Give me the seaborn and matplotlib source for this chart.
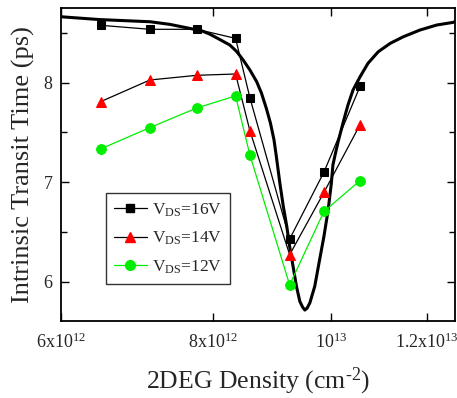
import numpy as np
import pandas as pd
import matplotlib
matplotlib.use("Agg")
import matplotlib.pyplot as plt
import seaborn as sns

# ---- data (x in units of 1e12 cm^-2, y in ps) ----
x_meas = [6.47, 7.10, 7.76, 8.35, 8.58, 9.25, 9.87, 10.57]
y_16v = [8.576, 8.536, 8.536, 8.445, 7.847, 6.429, 7.101, 7.964]
y_14v = [7.81, 8.027, 8.074, 8.087, 7.516, 6.272, 6.897, 7.579]
y_12v = [7.335, 7.549, 7.746, 7.867, 7.272, 5.968, 6.706, 7.017]

curve_x = [6.00, 6.45, 7.10, 7.37, 7.70, 7.80, 7.95, 8.10, 8.26, 8.37,
           8.47, 8.58, 8.69, 8.77, 8.85, 8.92, 8.98, 9.02, 9.08, 9.14,
           9.20, 9.25, 9.31, 9.37, 9.43, 9.48, 9.52, 9.56, 9.61, 9.70,
           9.79, 9.87, 9.95, 10.01, 10.04, 10.09, 10.14, 10.24, 10.33,
           10.43, 10.57, 10.73, 10.94, 11.19, 11.47, 11.84, 12.22, 12.61,
           12.65]
curve_y = [8.662, 8.634, 8.612, 8.586, 8.539, 8.529, 8.488, 8.435, 8.378,
           8.311, 8.228, 8.127, 8.010, 7.894, 7.743, 7.593, 7.425, 7.258,
           6.991, 6.756, 6.556, 6.355, 6.155, 5.954, 5.803, 5.745, 5.716,
           5.735, 5.787, 5.954, 6.222, 6.455, 6.723, 6.991, 7.175, 7.295,
           7.408, 7.609, 7.776, 7.927, 8.060, 8.195, 8.311, 8.395, 8.461,
           8.529, 8.579, 8.606, 8.614]

labels = ["V$_{\\rm DS}$=16V", "V$_{\\rm DS}$=14V", "V$_{\\rm DS}$=12V"]
xticks = [6, 8, 10, 12]
xticklabels = ["6x10$^{12}$", "8x10$^{12}$", "10$^{13}$", "1.2x10$^{13}$"]
yticks = [6, 7, 8]

sns.set_style("ticks")
plt.rcParams["font.family"] = ["Liberation Serif", "DejaVu Serif"]
plt.rcParams["mathtext.fontset"] = "custom"
plt.rcParams["mathtext.rm"] = "Liberation Serif"
plt.rcParams["mathtext.it"] = "Liberation Serif:italic"
plt.rcParams["mathtext.bf"] = "Liberation Serif:bold"

fig = plt.figure(figsize=(4.57, 3.98), dpi=100)
ax = fig.add_axes([61 / 457, 1 - 321 / 398, 394 / 457, 313 / 398])

df_curve = pd.DataFrame({"x": curve_x, "y": curve_y})
sns.lineplot(data=df_curve, x="x", y="y", ax=ax, color="black", lw=2.2,
             estimator=None, sort=False, legend=False)

series = [
    (y_16v, labels[0], "black", "s", "black", 6.0),
    (y_14v, labels[1], "black", "^", "red", 7.0),
    (y_12v, labels[2], "#00ee00", "o", "#00ee00", 7.0),
]
handles = []
for ys, lab, lc, mk, mc, ms in series:
    sns.lineplot(x=x_meas, y=ys, ax=ax, color=lc, lw=0.9, marker=mk,
                 markersize=ms, markerfacecolor=mc, markeredgecolor=mc,
                 estimator=None, sort=False, legend=False)
    h, = ax.plot([], [], color=lc, lw=0.9, marker=mk, markersize=ms,
                 markerfacecolor=mc, markeredgecolor=mc, label=lab)
    handles.append(h)

ax.set_xscale("log")
ax.set_xlim(6.0, 12.65)
ax.set_ylim(5.606, 8.75)
ax.set_xticks(xticks)
ax.set_xticklabels(xticklabels)
ax.xaxis.set_minor_locator(matplotlib.ticker.NullLocator())
ax.set_yticks(yticks)
ax.yaxis.set_minor_locator(matplotlib.ticker.MultipleLocator(0.5))

ax.tick_params(which="both", direction="in", top=True, right=True,
               labelsize=13, width=1.0, color="black")
ax.tick_params(which="major", length=6)
ax.tick_params(which="minor", length=4)
ax.tick_params(axis="x", pad=8)
ax.tick_params(axis="y", pad=6)
for s in ax.spines.values():
    s.set_linewidth(1.3)
    s.set_color("black")

ax.set_xlabel("2DEG Density (cm$^{\\text{-}2}$)", fontsize=18.5, labelpad=10)
ax.set_ylabel("Intrinsic Transit Time (ps)", fontsize=19, labelpad=6)

leg = ax.legend(handles=handles, loc="upper left",
                bbox_to_anchor=(0.1135, 0.408), borderaxespad=0,
                fontsize=12.5, frameon=True, fancybox=False, handlelength=1.9,
                handletextpad=0.3, labelspacing=0.65, borderpad=0.45)
leg.get_frame().set_edgecolor("black")
leg.get_frame().set_linewidth(1.0)

fig.savefig("out.png", dpi=100)
